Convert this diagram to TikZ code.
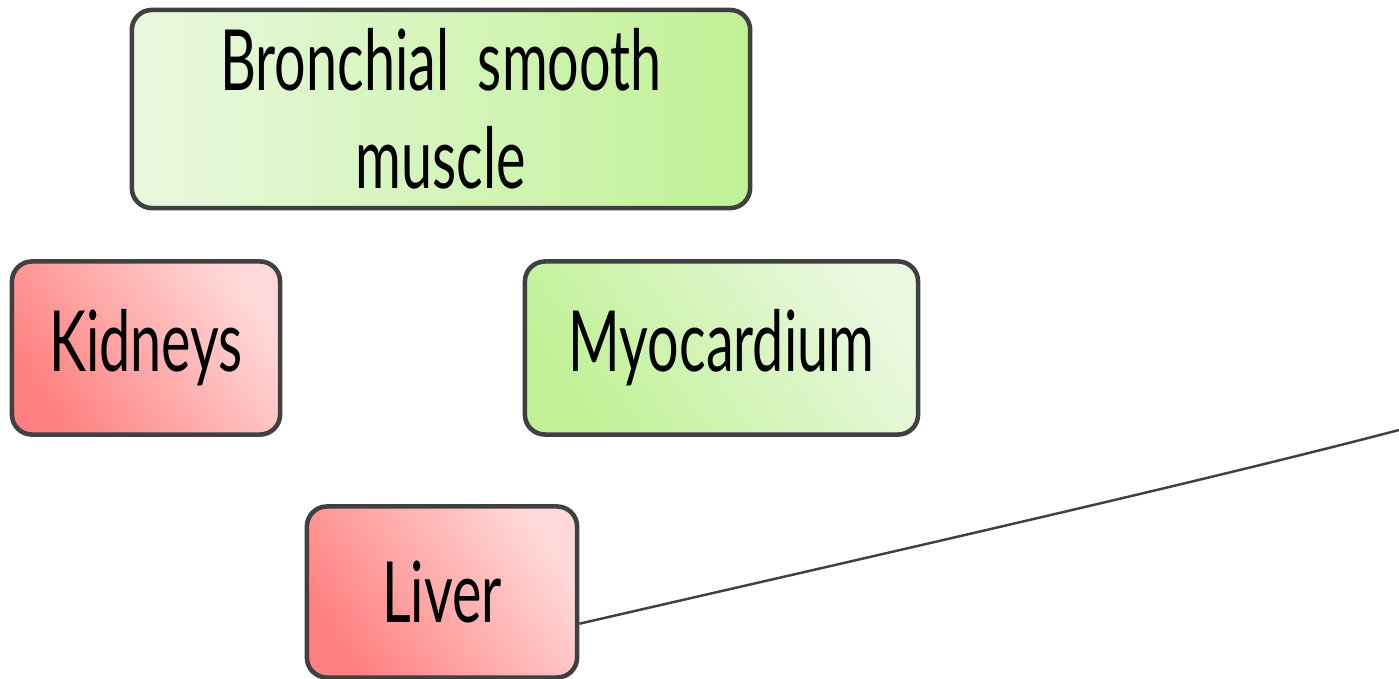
\documentclass[tikz,border=0pt]{standalone}
\usepackage{fontspec}
\setmainfont{Lato}[FakeStretch=0.66]
\usepackage{xcolor}
\usepackage{tikz}
\usetikzlibrary{calc,positioning}

\definecolor{edgegray}{HTML}{404040}
\definecolor{greenlight}{HTML}{E9F8DF}
\definecolor{greendeep}{HTML}{C0F196}
\definecolor{redlight}{HTML}{FFD9D9}
\definecolor{reddeep}{HTML}{FF8080}

\tikzset{
    organ/.style={draw=edgegray, line width=1.3pt, rounded corners=0.2cm,
        inner sep=0pt, align=center,
        font=\fontsize{24}{28}\selectfont},
    organgreen/.style={organ, left color=greenlight, right color=greendeep},
    organred/.style={organ, left color=reddeep, right color=redlight,
        shading angle=125},
    organgreendiag/.style={organ, left color=greendeep, right color=greenlight,
        shading angle=125},
    link/.style={draw=edgegray, line width=0.7pt}
}

\begin{document}
\begin{tikzpicture}[x=0.01cm, y=-0.01cm]

    \useasboundingbox (0,0) rectangle (1399,678);

    % Boxes
    \node[organgreen, minimum width=6.18cm, minimum height=1.98cm] (bronchial)
        at (441,109) {Bronchial\ \ smooth\\muscle};
    \node[organred, minimum width=2.68cm, minimum height=1.73cm] (kidneys)
        at (146,348) {Kidneys};
    \node[organgreendiag, minimum width=3.93cm, minimum height=1.73cm] (myocardium)
        at (721.5,348) {Myocardium};
    \node[organred, minimum width=2.70cm, minimum height=1.71cm] (liver)
        at (442,592) {Liver};

    % Link
    \coordinate (linkend) at (1399,430);
    \draw[link] (liver.-13) .. controls (900,550) and (1200,482) .. (linkend);

\end{tikzpicture}
\end{document}
